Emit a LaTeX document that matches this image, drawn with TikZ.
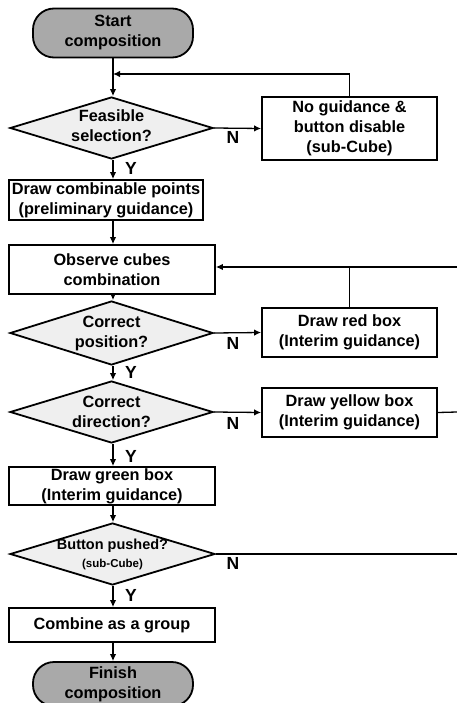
\documentclass[tikz,border=0pt]{standalone}
\usepackage{fontspec}
\setmainfont{Liberation Sans}
\usetikzlibrary{shapes.geometric,arrows.meta}
\definecolor{termfill}{HTML}{A9A9A9}
\definecolor{decfill}{HTML}{EFEFEF}
\tikzset{
  lbl/.style={font=\fontsize{16.3}{20}\selectfont\bfseries, align=center},
  terminal/.style={lbl, draw, line width=1.8pt, fill=termfill, rounded corners=21pt,
    minimum width=160pt, inner sep=0pt},
  procbox/.style={lbl, draw, line width=1.8pt, fill=white, inner sep=0pt},
  decision/.style={lbl, draw, line width=1.8pt, fill=decfill, shape=diamond,
    shape aspect=3.3, inner xsep=-14pt, inner ysep=-12pt,
    minimum width=203pt, minimum height=62pt},
  flow/.style={line width=1.3pt, -{Latex[length=7pt,width=6.5pt]}},
  plain/.style={line width=1.3pt},
  yn/.style={font=\fontsize{17.5}{17.5}\selectfont\bfseries, inner sep=0pt}
}
\begin{document}
\begin{tikzpicture}[x=1pt,y=-1pt]
\useasboundingbox (0,0) rectangle (457,703);

% main column
\node[terminal, minimum height=49pt] (start) at (113,33) {Start\\composition};
\node[decision] (feas) at (111.5,128)
  {\raisebox{-4pt}{\begin{tabular}{@{}c@{}}Feasible\\selection?\end{tabular}}};
\node[procbox, minimum width=175pt, minimum height=63pt] (nog) at (349.5,128.5)
  {No guidance \&\\button disable\\(sub-Cube)};
\node[procbox, minimum width=194pt, minimum height=40pt] (comb) at (106,200)
  {Draw combinable points\\(preliminary guidance)};
\node[procbox, minimum width=206pt, minimum height=49pt] (obs) at (112,269.5)
  {Observe cubes\\combination};
\node[decision, minimum height=64pt] (pos) at (111.5,333) {Correct\\position?};
\node[procbox, minimum width=175pt, minimum height=49pt] (red) at (349.5,332.5)
  {Draw red box\\(Interim guidance)};
\node[decision] (dir) at (111.5,412) {Correct\\direction?};
\node[procbox, minimum width=175pt, minimum height=49pt] (yel) at (349.5,412.5)
  {Draw yellow box\\(Interim guidance)};
\node[procbox, minimum width=206pt, minimum height=38pt] (green) at (112,486)
  {Draw green box\\(Interim guidance)};
\node[decision, minimum width=205pt] (btn) at (112.5,554)
  {\raisebox{-5pt}{\begin{tabular}{@{}c@{}}\fontsize{14.5}{17}\selectfont Button pushed?\\[-2pt]
   \fontsize{11.5}{13}\selectfont(sub-Cube)\end{tabular}}};
\node[procbox, minimum width=206pt, minimum height=34pt] (cmb) at (112,625)
  {Combine as a group};
\node[terminal, minimum height=44pt] (fin) at (113,684) {Finish\\composition};

% loose ends running off to the right
\coordinate (top) at (113,74);
\coordinate (r1) at (457,267);
\coordinate (r2) at (457,412);
\coordinate (r3) at (457,554);

% Y / N labels
\node[yn] (y1) at (131,168) {Y};
\node[yn] (y2) at (131,372) {Y};
\node[yn] (y3) at (131,456) {Y};
\node[yn] (y4) at (131,595) {Y};
\node[yn] (n1) at (233,137) {N};
\node[yn] (n2) at (233,343) {N};
\node[yn] (n3) at (233,423) {N};
\node[yn] (n4) at (233,563) {N};

% connectors
\draw[flow] (start.south -| top) -- (feas.north -| top);
\draw[flow] (nog.north) |- (top);
\draw[flow] (feas.east) -- (nog.west);
\draw[flow] (feas.south -| top) -- (comb.north -| top);
\draw[flow] (comb.south -| top) -- (obs.north -| top);
\draw[flow] (r1) -- (obs.east |- r1);
\draw[plain] (red.north) -- (red.north |- r1);
\draw[flow] (obs.south -| top) -- (pos.north -| top);
\draw[flow] (pos.east) -- (red.west);
\draw[flow] (pos.south -| top) -- (dir.north -| top);
\draw[flow] (dir.east) -- (yel.west);
\draw[plain] (yel.east) -- (r2);
\draw[flow] (dir.south -| top) -- (green.north -| top);
\draw[flow] (green.south -| top) -- (btn.north -| top);
\draw[plain] (btn.east) -- (r3);
\draw[flow] (btn.south -| top) -- (cmb.north -| top);
\draw[flow] (cmb.south -| top) -- (fin.north -| top);
\end{tikzpicture}
\end{document}
